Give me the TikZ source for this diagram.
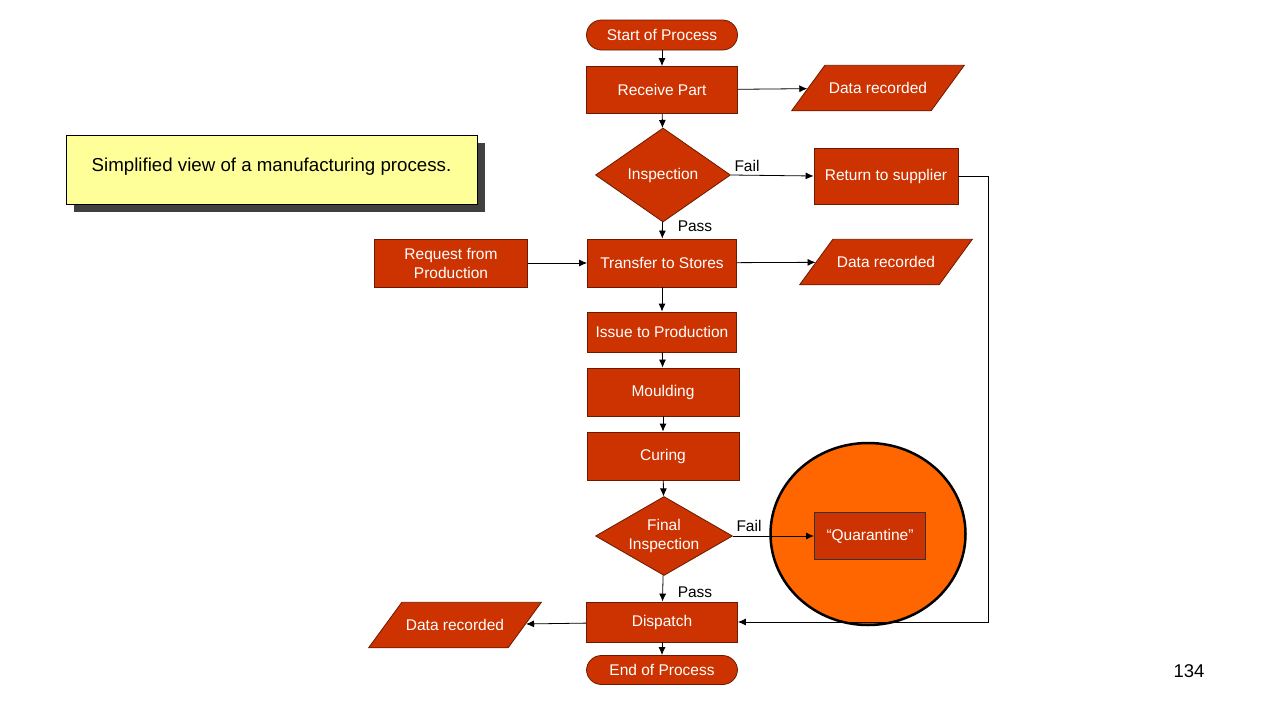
\documentclass[tikz,border=0pt]{standalone}
\usepackage{fontspec}
\setmainfont{Liberation Sans}
\usetikzlibrary{shapes.geometric,arrows.meta,shadows}
\definecolor{rust}{HTML}{CC3300}
\definecolor{rustline}{HTML}{6B1A00}
\definecolor{qorange}{HTML}{FF6600}
\definecolor{note}{HTML}{FFFF99}
\definecolor{shade}{HTML}{404040}
\begin{document}
\begin{tikzpicture}[x=1pt,y=-1pt,
 every node/.style={font=\fontsize{15.5}{19}\selectfont},
 box/.style={draw=rustline, line width=0.8pt, fill=rust, text=white, inner sep=0pt, align=center},
 term/.style={box, rounded corners=15pt, minimum width=151pt, minimum height=30pt},
 dec/.style={box, diamond, shape aspect=1.44, minimum width=135pt, minimum height=94pt},
 io/.style={box, trapezium, trapezium left angle=56, trapezium right angle=124, trapezium stretches=true,
   text height=11.5pt, text depth=0pt, inner ysep=17pt, inner xsep=0pt, minimum width=173pt},
 arr/.style={-{Latex[length=8pt,width=7pt]}, line width=0.8pt, black},
 lbl/.style={text=black, inner sep=0pt}]
\useasboundingbox[fill=white] (0,0) rectangle (1280,720);

% note box
\node[draw=black, line width=0.8pt, fill=note, minimum width=411pt, minimum height=69pt,
  drop shadow={shadow xshift=8pt, shadow yshift=-8pt, fill=shade, opacity=1},
  text depth=10pt, font=\fontsize{18.7}{22}\selectfont] (note) at (271.5,169.5) {Simplified view of a manufacturing process.};

% orange circle
\node[ellipse, draw=black, line width=2.5pt, fill=qorange, minimum width=195pt, minimum height=182pt] (circ) at (868,534) {};

% main nodes
\node[term] (start) at (662,35) {Start of Process};
\node[box, minimum width=151pt, minimum height=47pt] (rp) at (662,90) {Receive Part};
\node[io] (dr1) at (878,88) {Data recorded};
\node[dec] (insp) at (663,175) {Inspection};
\node[box, minimum width=144pt, minimum height=56pt] (ret) at (886,176) {Return to supplier};
\node[box, minimum width=149pt, minimum height=48pt] (ts) at (662,263) {Transfer to Stores};
\node[box, minimum width=153pt, minimum height=48pt] (req) at (451,263) {Request from\\Production};
\node[io] (dr2) at (886,262) {Data recorded};
\node[box, minimum width=149pt, minimum height=40pt] (itp) at (662,332) {Issue to Production};
\node[box, minimum width=152pt, minimum height=48pt] (mould) at (663,392) {Moulding};
\node[box, minimum width=152pt, minimum height=48pt] (cure) at (663,456) {Curing};
\node[dec, shape aspect=1.73, minimum width=137pt, minimum height=79pt] (fi) at (664,536) {Final\\Inspection};
\node[box, draw=black!80, minimum width=111pt, minimum height=47pt] (quar) at (870,536) {“Quarantine”};
\node[box, minimum width=151pt, minimum height=40pt] (disp) at (662,622) {Dispatch};
\node[io] (dr3) at (455,625) {Data recorded};
\node[term, minimum height=29pt] (end) at (662,670) {End of Process};

% labels
\node[lbl] (fail1) at (747,166) {Fail};
\node[lbl] (pass1) at (695,226) {Pass};
\node[lbl] (fail2) at (749,526) {Fail};
\node[lbl] (pass2) at (695,592) {Pass};
\node[lbl, font=\fontsize{18.5}{22}\selectfont] (pg) at (1189,671) {134};

% connectors
\coordinate (rr) at (988,179);
\draw[arr] (start) -- (rp);
\draw[arr] (rp) -- (dr1);
\draw[arr] (rp) -- (insp);
\draw[arr] (insp.east) -- (ret.west);
\draw[arr] (insp) -- (ts);
\draw[arr] (req) -- (ts);
\draw[arr] (ts) -- (dr2);
\draw[arr] (ts) -- (itp);
\draw[arr] (itp) -- (mould);
\draw[arr] (mould) -- (cure);
\draw[arr] (cure) -- (fi);
\draw[arr] (fi.east) -- (quar.west);
\draw[arr] (fi) -- (disp);
\draw[arr] (ret.east) -- (ret.east -| rr) |- (disp.east);
\draw[arr] (disp) -- (dr3);
\draw[arr] (disp) -- (end);
\end{tikzpicture}
\end{document}
